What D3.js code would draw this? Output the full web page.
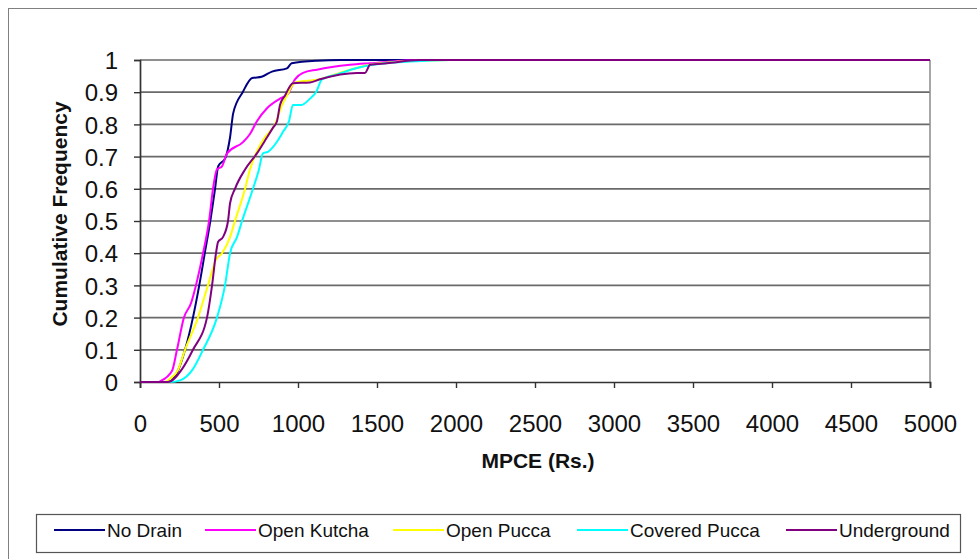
<!DOCTYPE html>
<html><head><meta charset="utf-8">
<script src="https://cdn.jsdelivr.net/npm/d3@7"></script>
<style>body{margin:0;background:#fff;} svg{display:block;font-family:"Liberation Sans",Arial,sans-serif;}</style>
</head><body><svg id="c" width="977" height="559"></svg>
<script>
const seriesNames = ["No Drain","Open Kutcha","Open Pucca","Covered Pucca","Underground"];
const seriesColors = ["#000080","#ff00ff","#ffff00","#00ffff","#800080"];
const xTicks = [0,500,1000,1500,2000,2500,3000,3500,4000,4500,5000];
const yTicks = [0,0.1,0.2,0.3,0.4,0.5,0.6,0.7,0.8,0.9,1];

const noDrain = [[0,0],[180,0],[240,0.035],[285,0.1],[335,0.2],[375,0.3],[410,0.4],[445,0.5],[475,0.6],[495,0.67],[540,0.695],[570,0.76],[590,0.835],[650,0.9],[710,0.944],[770,0.948],[835,0.964],[930,0.974],[960,0.99],[1120,0.998],[1270,1],[5000,1]];
const openKutcha = [[0,0],[115,0],[130,0.003],[203,0.035],[234,0.1],[278,0.2],[323,0.245],[354,0.3],[399,0.4],[437,0.5],[462,0.6],[487,0.66],[519,0.67],[551,0.71],[652,0.745],[696,0.77],[740,0.81],[804,0.85],[886,0.88],[937,0.895],[981,0.94],[1032,0.96],[1120,0.97],[1329,0.985],[1456,0.99],[1772,1],[5000,1]];
const openPucca = [[0,0],[158,0],[190,0.01],[240,0.037],[285,0.1],[367,0.2],[430,0.3],[481,0.38],[519,0.4],[570,0.45],[601,0.5],[665,0.6],[696,0.66],[734,0.71],[791,0.76],[854,0.8],[899,0.86],[930,0.89],[981,0.93],[1139,0.94],[1266,0.96],[1456,0.985],[1646,0.995],[1962,1],[5000,1]];
const coveredPucca = [[0,0],[190,0],[253,0.005],[335,0.04],[399,0.1],[487,0.2],[538,0.3],[570,0.4],[614,0.45],[646,0.5],[715,0.6],[753,0.66],[778,0.71],[810,0.715],[867,0.746],[905,0.777],[943,0.81],[968,0.86],[1020,0.86],[1076,0.88],[1114,0.9],[1152,0.94],[1247,0.955],[1373,0.975],[1475,0.985],[1709,0.995],[1962,1],[5000,1]];
const underground = [[0,0],[177,0],[266,0.04],[335,0.1],[424,0.2],[456,0.3],[481,0.4],[494,0.435],[525,0.45],[557,0.5],[570,0.555],[601,0.6],[665,0.66],[740,0.71],[804,0.76],[842,0.79],[867,0.81],[886,0.86],[918,0.89],[968,0.928],[1076,0.93],[1139,0.94],[1373,0.96],[1424,0.96],[1456,0.985],[1563,0.99],[1772,1],[5000,1]];
const allSeries = [noDrain, openKutcha, openPucca, coveredPucca, underground];

const FONT = "'Liberation Sans',Arial,sans-serif";
const svg = d3.select("#c");
svg.append("rect").attr("x",8.5).attr("y",8.5).attr("width",975).attr("height",560)
  .attr("fill","#fff").attr("stroke","#808080").attr("stroke-width",1);

const L=140,R=930,T=60,B=382;
const x = d3.scaleLinear().domain([0,5000]).range([L,R]);
const y = d3.scaleLinear().domain([0,1]).range([B,T]);

// gridlines
svg.append("g").selectAll("line").data(yTicks.filter(d=>d>0)).join("line")
  .attr("x1",L).attr("x2",R).attr("y1",d=>y(d)).attr("y2",d=>y(d))
  .attr("stroke","#6a6a6a").attr("stroke-width",1.7);
// right border of plot
svg.append("line").attr("x1",R).attr("x2",R).attr("y1",T).attr("y2",B)
  .attr("stroke","#8a8a8a").attr("stroke-width",1.5);

// axes
const ya = svg.append("g").attr("transform",`translate(${L},0)`)
  .call(d3.axisLeft(y).tickValues(yTicks).tickSize(6).tickPadding(16).tickFormat(d=>String(+d.toFixed(1))));
const xa = svg.append("g").attr("transform",`translate(0,${B})`)
  .call(d3.axisBottom(x).tickValues(xTicks).tickSize(6).tickFormat(d3.format("d")));
[ya,xa].forEach(g=>{
  g.select(".domain").attr("stroke","#333").attr("stroke-width",1.7);
  g.selectAll(".tick line").attr("stroke","#333").attr("stroke-width",1.4);
  g.selectAll("text").attr("font-size",24).attr("fill","#111").attr("font-family",FONT);
});
ya.selectAll("text").attr("dy","0.36em");
xa.selectAll("text").attr("y",50).attr("dy",0);

// lines
const line = d3.line().x(d=>x(d[0])).y(d=>y(d[1])).curve(d3.curveMonotoneX);
const g = svg.append("g");
allSeries.forEach((s,i)=>{
  g.append("path").datum(s).attr("d",line).attr("fill","none")
    .attr("stroke",seriesColors[i]).attr("stroke-width",2).attr("stroke-linejoin","round");
});

// titles
svg.append("text").attr("x",538).attr("y",468).attr("text-anchor","middle").attr("font-family",FONT)
  .attr("font-size",21).attr("font-weight","bold").attr("fill","#111").text("MPCE (Rs.)");
svg.append("text").attr("transform","translate(67,214) rotate(-90)").attr("text-anchor","middle").attr("font-family",FONT)
  .attr("font-size",21).attr("font-weight","bold").attr("fill","#111").text("Cumulative Frequency");

// legend
svg.append("rect").attr("x",36.5).attr("y",514.5).attr("width",924).attr("height",38)
  .attr("fill","#fff").attr("stroke","#555").attr("stroke-width",1.2);
const legX = [54,205,393,577,786];
const lg = svg.append("g");
seriesNames.forEach((n,i)=>{
  lg.append("line").attr("x1",legX[i]).attr("x2",legX[i]+51).attr("y1",530).attr("y2",530)
    .attr("stroke",seriesColors[i]).attr("stroke-width",2.2);
  lg.append("text").attr("x",legX[i]+53).attr("y",537).attr("font-size",19).attr("font-family",FONT)
    .attr("fill","#111").text(n);
});
</script></body></html>
